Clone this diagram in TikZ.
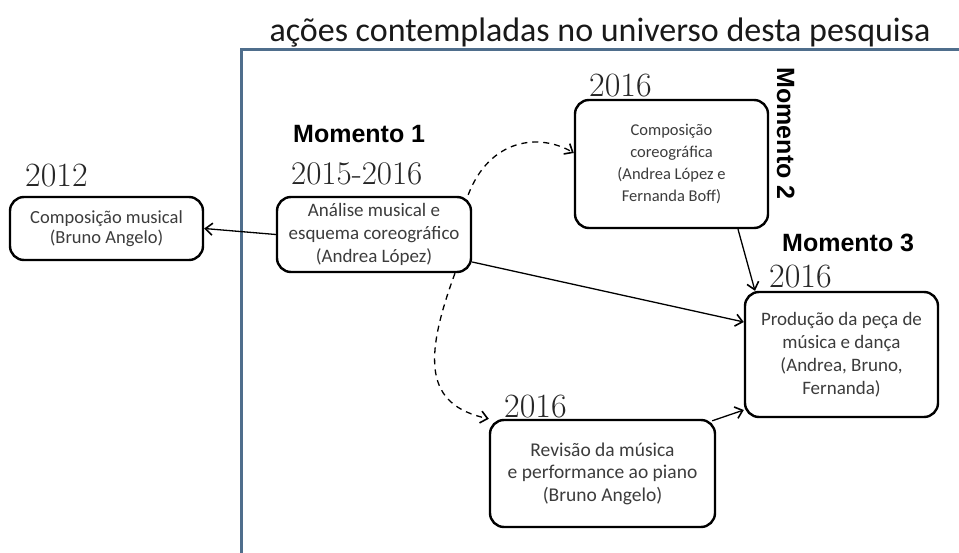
\documentclass[tikz,border=0pt]{standalone}
\usepackage{fontspec}
\newfontfamily\boxfont{Carlito}
\newfontfamily\momfont{Liberation Sans}
\usetikzlibrary{arrows.meta}
\definecolor{framecol}{HTML}{4F6E8C}
\definecolor{txtgray}{HTML}{3C3C3C}
\tikzset{
  box/.style={draw, line width=2.4bp, rounded corners=14bp, inner sep=0pt, align=center,
    text=txtgray, font=\boxfont\fontsize{19bp}{23bp}\selectfont},
  year/.style={anchor=base west, inner sep=0pt, font=\fontsize{34bp}{36bp}\selectfont, text=black!85},
  mom/.style={anchor=base west, inner sep=0pt, font=\momfont\bfseries\fontsize{25bp}{28bp}\selectfont},
  conn/.style={line width=1.3bp, -{Straight Barb[length=7bp,width=12bp,line width=1.6bp]}},
  dconn/.style={conn, dash pattern=on 6bp off 5bp},
  frameline/.style={line width=3bp, framecol}
}
\begin{document}
\begin{tikzpicture}[x=1bp,y=-1bp]
\useasboundingbox[fill=white] (0,0) rectangle (959,553);
% frame
\coordinate (fb) at (241,553);
\coordinate (fc) at (241,50);
\coordinate (fr) at (959,50);
\draw[frameline] (fb) -- (fc) -- (fr);
\node[anchor=base, inner sep=0pt, font=\boxfont\fontsize{34bp}{36bp}\selectfont, text=black!90] (title) at (600,42) {ações contempladas no universo desta pesquisa};

% boxes
\node[box, minimum width=193bp, minimum height=63bp, font=\boxfont\fontsize{18.5bp}{19.5bp}\selectfont] (musical) at (106.5,228.5) {Composição musical\\(Bruno Angelo)};
\node[box, minimum width=194bp, minimum height=75bp] (analise) at (374,234.5) {Análise musical e\\esquema coreográfico\\(Andrea López)};
\node[box, minimum width=193bp, minimum height=128bp, font=\boxfont\fontsize{16.5bp}{21.7bp}\selectfont] (coreo) at (671.5,164) {Composição\\coreográfica\\(Andrea López e\\Fernanda Boff)};
\node[box, minimum width=193bp, minimum height=125bp] (producao) at (841.5,354.5) {Produção da peça de\\música e dança\\(Andrea, Bruno,\\Fernanda)};
\node[box, minimum width=225bp, minimum height=107bp, font=\boxfont\fontsize{19.5bp}{22.5bp}\selectfont] (revisao) at (602.5,473.5) {Revisão da música\\e performance ao piano\\(Bruno Angelo)};

% years and moments
\node[year] (y2012) at (25,187) {2012};
\node[year, font=\fontsize{33bp}{36bp}\selectfont] (y1516) at (291,185) {2015-2016};
\node[mom] (m1) at (293,143) {Momento 1};
\node[year] (y2016a) at (589,97) {2016};
\node[mom, anchor=base, rotate=-90] (m2) at (777,133.5) {Momento 2};
\node[mom] (m3) at (782,252) {Momento 3};
\node[year] (y2016b) at (769,288) {2016};
\node[year] (y2016c) at (504,417) {2016};

% connectors
\draw[conn] (analise.west) -- (musical.east);
\draw[conn] (analise.east |- 0,262) -- (producao.west |- 0,322);
\draw[conn] (coreo.south -| 738,0) -- (producao.north -| 755,0);
\draw[conn] (revisao.north east) ++(-4,2) coordinate (rs) (rs) -- (producao.south west |- 0,410);
\draw[dconn] (analise.north east) ++(-4,-1) coordinate (d1) (d1) .. controls (490,138) and (540,133) .. (coreo.west |- 0,153);
\draw[dconn] (analise.south) ++(81,0) coordinate (d2) (d2) .. controls (423,360) and (425,405) .. (revisao.north west);
\end{tikzpicture}
\end{document}
